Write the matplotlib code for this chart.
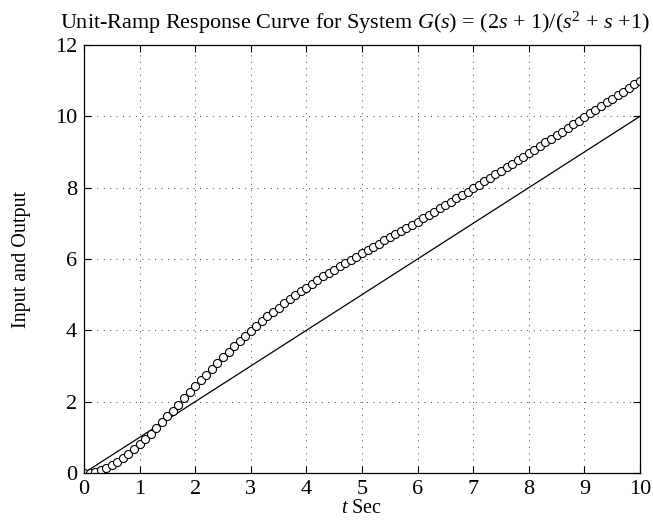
import numpy as np
import matplotlib
matplotlib.use("Agg")
import matplotlib.pyplot as plt

plt.rcParams['font.family'] = ['Liberation Serif', 'DejaVu Serif']
plt.rcParams['mathtext.fontset'] = 'custom'
plt.rcParams['mathtext.rm'] = 'Liberation Serif'
plt.rcParams['mathtext.it'] = 'Liberation Serif:italic'

# time grid (0:0.1:10) and values
t = np.linspace(0, 10, 101)
ramp_input = t
output = [
    0.00, 0.01, 0.04, 0.09, 0.15, 0.23, 0.32, 0.43, 0.54, 0.67,
    0.81, 0.95, 1.10, 1.26, 1.42, 1.59, 1.75, 1.92, 2.09, 2.26,
    2.43, 2.60, 2.76, 2.93, 3.09, 3.25, 3.40, 3.56, 3.71, 3.85,
    3.99, 4.13, 4.26, 4.39, 4.52, 4.64, 4.76, 4.87, 4.99, 5.10,
    5.20, 5.31, 5.41, 5.51, 5.61, 5.70, 5.80, 5.89, 5.98, 6.07,
    6.16, 6.25, 6.34, 6.43, 6.52, 6.61, 6.70, 6.78, 6.87, 6.96,
    7.05, 7.14, 7.23, 7.33, 7.42, 7.51, 7.60, 7.70, 7.79, 7.89,
    7.98, 8.08, 8.18, 8.27, 8.37, 8.47, 8.57, 8.67, 8.77, 8.87,
    8.97, 9.07, 9.17, 9.27, 9.37, 9.47, 9.57, 9.67, 9.78, 9.88,
    9.98, 10.08, 10.18, 10.29, 10.39, 10.49, 10.59, 10.69, 10.79, 10.90,
    11.00,
]

fig = plt.figure(figsize=(6.53, 5.24), dpi=100)
ax = fig.add_axes([0.1286, 0.0973, 0.8514, 0.8168])

ax.plot(t, ramp_input, color='black', linewidth=0.9)
ax.plot(t, output, 'o', markersize=5.8, markerfacecolor='white',
        markeredgecolor='black', markeredgewidth=0.8)

ax.set_xlim(0, 10)
ax.set_ylim(0, 12)
ax.set_xticks(range(0, 11))
ax.set_yticks(range(0, 13, 2))
ax.grid(True, linestyle=(0, (1, 5.6)), color='0.25', linewidth=0.7)
ax.tick_params(direction='in', top=True, right=True, labelsize=16,
               length=5, width=0.8, pad=5)
for s in ax.spines.values():
    s.set_linewidth(0.9)

ax.set_title("Unit-Ramp Response Curve for System $G(s)$ = (2$s$ + 1)/($s^2$ + $s$ +1)",
             fontsize=15.9, pad=12, x=0.488)
ax.set_xlabel("$t$ Sec", fontsize=14.5, labelpad=0)
ax.set_ylabel("Input and Output", fontsize=14.5, labelpad=17)

fig.savefig("out.png", dpi=100)
